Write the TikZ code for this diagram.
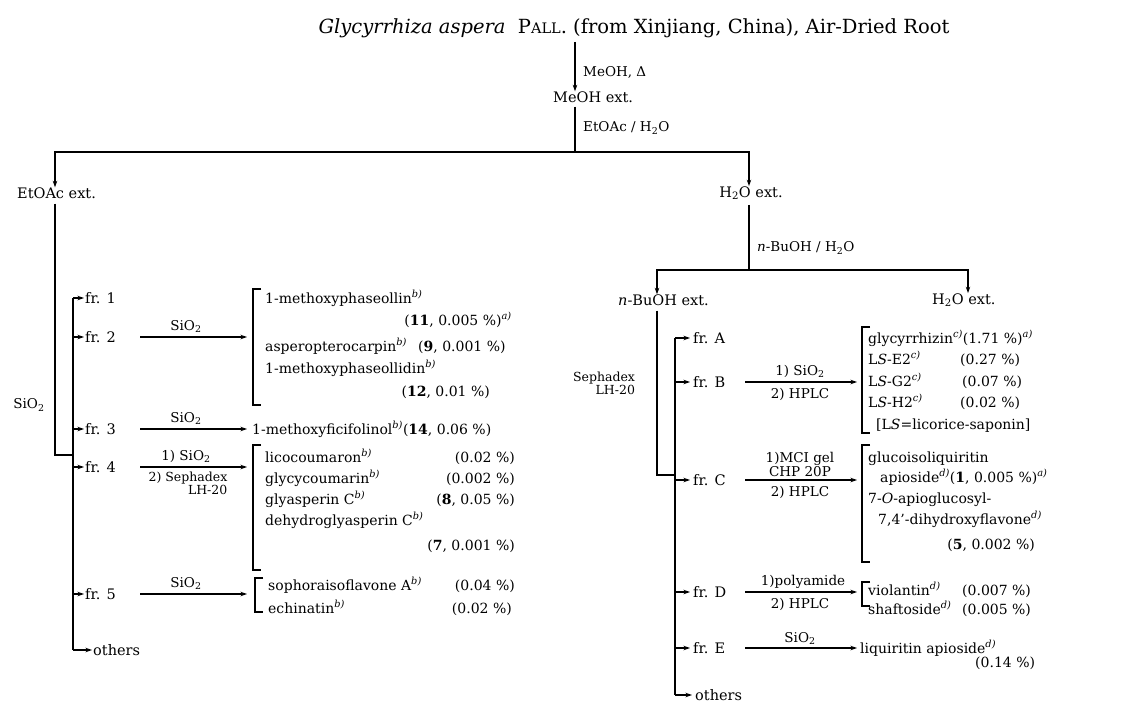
\documentclass[tikz,border=0pt]{standalone}
\usepackage{fontspec}
\setmainfont{DejaVu Serif}
\usetikzlibrary{arrows.meta}
\newcommand{\fn}[1]{\textsuperscript{\itshape #1)}}
\newcommand{\sub}[1]{\textsubscript{#1}}
\begin{document}
\begin{tikzpicture}[x=1pt,y=-1pt,
  ttl/.style={font=\fontsize{19.5}{22}\selectfont, inner sep=0pt},
  txt/.style={font=\fontsize{14}{16}\selectfont, inner sep=0pt, anchor=base west},
  frt/.style={font=\fontsize{14.5}{16}\selectfont, inner sep=0pt, anchor=west},
  lbl/.style={font=\fontsize{13.5}{15}\selectfont, inner sep=0pt},
  slbl/.style={font=\fontsize{12.5}{13}\selectfont, inner sep=0pt},
  arr/.style={-{Stealth[length=6.5pt,width=4.5pt]}, line width=1.2pt},
  ln/.style={line width=1.2pt},
  brk/.style={line width=1.1pt}]
\useasboundingbox (0,0) rectangle (1125,709);

% ---------- top ----------
\node[ttl] (title) at (634,28) {\textit{Glycyrrhiza aspera}\ \ P{\fontsize{14.5}{16}\selectfont ALL}. (from Xinjiang, China), Air-Dried Root};
\coordinate (tx) at (575,0);
\node[frt] (meoh) at (553,97) {MeOH ext.};
\node[lbl, anchor=west] (meohlbl) at (583,72) {MeOH, Δ};
\draw[arr] (title.south -| tx) ++(0,4) -- (meoh.north -| tx);
\coordinate (split) at (575,152);
\coordinate (lsplit) at (55,152);
\coordinate (rsplit) at (749,152);
\node[lbl, anchor=west] (etlbl) at (583,128) {EtOAc / H\sub{2}O};
\draw[ln] (meoh.south -| tx) ++(0,4) -- (split);

\node[frt] (etoac) at (17,193) {EtOAc ext.};
\node[frt, anchor=center] (h2o) at (751,193) {H\sub{2}O ext.};
\draw[arr] (split) -- (lsplit) -- (etoac.north -| lsplit);
\draw[arr] (split) -- (rsplit) -- (h2o.north -| rsplit);

% ---------- left branch ----------
\coordinate (lj) at (55,455);
\coordinate (lb) at (73,455);
\node[lbl] (sio2L) at (29,405) {SiO\sub{2}};
\draw[ln] (etoac.south -| lj) ++(0,5) -- (lj) -- (lb);

\node[frt] (fr1) at (85,298) {fr. 1};
\node[frt] (fr2) at (85,337) {fr. 2};
\node[frt] (fr3) at (85,429) {fr. 3};
\node[frt] (fr4) at (85,467) {fr. 4};
\node[frt] (fr5) at (85,594) {fr. 5};
\node[frt] (oth1) at (93,650) {others};
\draw[ln] (fr1.west -| lb) -- (oth1.west -| lb);
\foreach \n in {fr1,fr2,fr3,fr4,fr5,oth1}
  \draw[arr] (\n.west -| lb) -- ([xshift=-1pt]\n.west);

\coordinate (la) at (140,0);
\coordinate (lz) at (247,0);
\foreach \n in {fr2,fr3,fr4,fr5}
  \draw[arr] (\n.west -| la) -- (\n.west -| lz);
\node[lbl, anchor=south] (l2) at (186,333) {SiO\sub{2}};
\node[lbl, anchor=south] (l3) at (186,425) {SiO\sub{2}};
\node[lbl, anchor=south] (l4a) at (186,463) {1) SiO\sub{2}};
\node[slbl, anchor=north, align=right] (l4b) at (188,472) {2) Sephadex\\LH-20};
\node[lbl, anchor=south] (l5) at (186,590) {SiO\sub{2}};

% bracket 1
\draw[brk] (261,289) -- (253,289) -- (253,405) -- (261,405);
\node[txt] (c1a) at (265,303) {1-methoxyphaseollin\fn{b}};
\node[txt, anchor=base east] (c1b) at (512,325) {(\textbf{11}, 0.005 \%)\fn{a}};
\node[txt] (c1c) at (265,351) {asperopterocarpin\fn{b}};
\node[txt] (c1d) at (418,351) {(\textbf{9}, 0.001 \%)};
\node[txt] (c1e) at (265,373) {1-methoxyphaseollidin\fn{b}};
\node[txt, anchor=base east] (c1f) at (490,396) {(\textbf{12}, 0.01 \%)};

% row 3
\node[txt] (c3) at (252,434) {1-methoxyficifolinol\fn{b}(\textbf{14}, 0.06 \%)};

% bracket 4
\draw[brk] (261,445) -- (253,445) -- (253,570) -- (261,570);
\node[txt] (c4a) at (265,462) {licocoumaron\fn{b}};
\node[txt, anchor=base east] (c4b) at (515,462) {(0.02 \%)};
\node[txt] (c4c) at (265,483) {glycycoumarin\fn{b}};
\node[txt, anchor=base east] (c4d) at (515,483) {(0.002 \%)};
\node[txt] (c4e) at (265,504) {glyasperin C\fn{b}};
\node[txt, anchor=base east] (c4f) at (515,504) {(\textbf{8}, 0.05 \%)};
\node[txt] (c4g) at (265,525) {dehydroglyasperin C\fn{b}};
\node[txt, anchor=base east] (c4h) at (515,550) {(\textbf{7}, 0.001 \%)};

% bracket 5
\draw[brk] (263,578) -- (255,578) -- (255,612) -- (263,612);
\node[txt] (c5a) at (268,590) {sophoraisoflavone A\fn{b}};
\node[txt, anchor=base east] (c5b) at (515,590) {(0.04 \%)};
\node[txt] (c5c) at (268,613) {echinatin\fn{b}};
\node[txt, anchor=base east] (c5d) at (512,613) {(0.02 \%)};

% ---------- right branch ----------
\coordinate (rj) at (749,270);
\coordinate (rl) at (657,270);
\coordinate (rr) at (968,270);
\node[lbl, anchor=west] (bulbl) at (757,248) {\textit{n}-BuOH / H\sub{2}O};
\node[frt] (nbu) at (618,300) {\textit{n}-BuOH ext.};
\node[frt] (h2o2) at (932,300) {H\sub{2}O ext.};
\draw[ln] (h2o.south -| rj) ++(0,5) -- (rj);
\draw[arr] (rl) -- (rr) -- (h2o2.north -| rr);
\draw[arr] (rj) -- (rl) -- (nbu.north -| rl);

\coordinate (rtj) at (657,475);
\coordinate (rb) at (675,475);
\node[slbl, align=right] (seph) at (604,383) {Sephadex\\LH-20};
\draw[ln] (nbu.south -| rtj) ++(0,5) -- (rtj) -- (rb);

\node[frt] (frA) at (693,338) {fr. A};
\node[frt] (frB) at (693,382) {fr. B};
\node[frt] (frC) at (693,480) {fr. C};
\node[frt] (frD) at (693,592) {fr. D};
\node[frt] (frE) at (693,648) {fr. E};
\node[frt] (oth2) at (695,695) {others};
\draw[ln] (frA.west -| rb) -- (oth2.west -| rb);
\foreach \n in {frA,frB,frC,frD,frE,oth2}
  \draw[arr] (\n.west -| rb) -- ([xshift=-3pt]\n.west);

\coordinate (ra) at (745,0);
\coordinate (rz) at (857,0);
\foreach \n in {frB,frC,frD,frE}
  \draw[arr] (\n.west -| ra) -- (\n.west -| rz);
\node[lbl, anchor=south] (rB1) at (800,378) {1) SiO\sub{2}};
\node[lbl, anchor=north] (rB2) at (800,388) {2) HPLC};
\node[lbl, anchor=south, align=center] (rC1) at (800,477) {1)MCI gel\\[-1pt]CHP 20P};
\node[lbl, anchor=north] (rC2) at (800,486) {2) HPLC};
\node[lbl, anchor=south] (rD1) at (803,589) {1)polyamide};
\node[lbl, anchor=north] (rD2) at (800,598) {2) HPLC};
\node[lbl, anchor=south] (rE1) at (800,645) {SiO\sub{2}};

% bracket B
\draw[brk] (870,327) -- (862,327) -- (862,433) -- (870,433);
\node[txt] (bA) at (868,343) {glycyrrhizin\fn{c}(1.71 \%)\fn{a}};
\node[txt] (bB) at (868,364) {L\textit{S}-E2\fn{c}};
\node[txt] (bB2) at (960,364) {(0.27 \%)};
\node[txt] (bC) at (868,386) {L\textit{S}-G2\fn{c}};
\node[txt] (bC2) at (962,386) {(0.07 \%)};
\node[txt] (bD) at (868,407) {L\textit{S}-H2\fn{c}};
\node[txt] (bD2) at (960,407) {(0.02 \%)};
\node[txt] (bE) at (876,429) {[L\textit{S}=licorice-saponin]};

% bracket C
\draw[brk] (870,445) -- (862,445) -- (862,562) -- (870,562);
\node[txt] (cA) at (868,462) {glucoisoliquiritin};
\node[txt] (cB) at (880,482) {apioside\fn{d}(\textbf{1}, 0.005 \%)\fn{a}};
\node[txt] (cC) at (868,503) {7-\textit{O}-apioglucosyl-};
\node[txt] (cD) at (878,524) {7,4'-dihydroxyflavone\fn{d}};
\node[txt, anchor=base east] (cE) at (1035,549) {(\textbf{5}, 0.002 \%)};

% bracket D
\draw[brk] (870,582) -- (862,582) -- (862,606) -- (870,606);
\node[txt] (dA) at (868,595) {violantin\fn{d}};
\node[txt] (dA2) at (962,595) {(0.007 \%)};
\node[txt] (dB) at (868,614) {shaftoside\fn{d}};
\node[txt] (dB2) at (962,614) {(0.005 \%)};

% row E
\node[txt] (eA) at (860,653) {liquiritin apioside\fn{d}};
\node[txt] (eB) at (975,667) {(0.14 \%)};
\end{tikzpicture}
\end{document}
